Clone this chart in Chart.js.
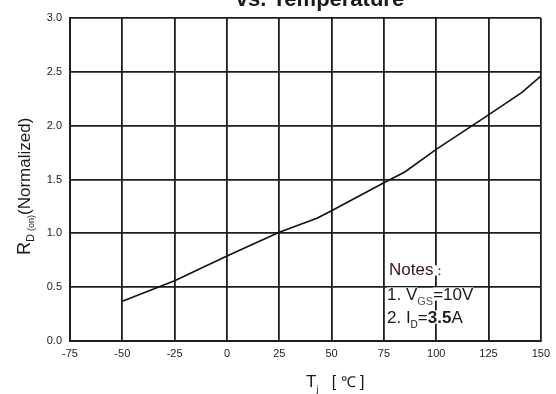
<!DOCTYPE html>
<html>
<head>
<meta charset="utf-8">
<script src="https://cdn.jsdelivr.net/npm/chart.js@4.4.1/dist/chart.umd.min.js"></script>
<style>
  html, body { margin: 0; padding: 0; background: #fff; }
</style>
</head>
<body>
<canvas id="chart" width="556" height="394"></canvas>
<script>
// Tj (deg C) vs normalized RDS(on)
const tempC = [-50, -25, 0, 25, 43, 50, 75, 85, 100, 125, 141, 150]
const rdsNorm = [0.37, 0.56, 0.79, 1.01, 1.14, 1.21, 1.47, 1.57, 1.78, 2.10, 2.31, 2.46]
const xTicks = [-75, -50, -25, 0, 25, 50, 75, 100, 125, 150]
const yTicks = [0.0, 0.5, 1.0, 1.5, 2.0, 2.5, 3.0]

const FONT = '"Liberation Sans", Arial, sans-serif'
const INK = '#1a1a1a'

// draws a list of text runs [text, size, dy, weight, color] starting at x,y
function drawRuns(ctx, runs, x, y, whiteBg) {
  let cx = x
  runs.forEach(([txt, size, dy, weight, color]) => {
    ctx.font = `${weight || 'normal'} ${size}px ${FONT}`
    const w = ctx.measureText(txt).width
    if (whiteBg && txt.trim()) {
      ctx.fillStyle = '#fff'
      ctx.fillRect(cx, y + dy - size * 0.74, w, size * 0.78)
    }
    ctx.fillStyle = color || INK
    ctx.fillText(txt, cx, y + dy)
    cx += w
  })
}

const labelsPlugin = {
  id: 'labels',
  afterDraw(chart) {
    const ctx = chart.ctx
    ctx.save()
    ctx.textBaseline = 'alphabetic'
    ctx.textAlign = 'left'

    // title, cut off by the top edge
    ctx.font = `bold 22px ${FONT}`
    ctx.fillStyle = INK
    ctx.textAlign = 'center'
    ctx.fillText('vs. Temperature', 320, 6)
    ctx.textAlign = 'left'

    // y axis title
    ctx.save()
    ctx.translate(30, 255)
    ctx.rotate(-Math.PI / 2)
    drawRuns(ctx, [
      ['R', 18, 0], ['D', 11, 4], [' ', 11, 4], ['(on)', 9, 4], ['(Normalized)', 17, 0],
    ], 0, 0, false)
    ctx.restore()

    // x axis title
    drawRuns(ctx, [['T', 17, 0], ['j', 9, 5], ['   [ ', 16, 0], ['℃', 15, 0], [' ]', 16, 0]], 306, 387, false)

    // notes
    drawRuns(ctx, [['Notes', 17, 0, 'normal', '#3a1418'], ['：', 13, 0]], 389, 275, true)
    drawRuns(ctx, [['1. V', 17, 0], ['GS', 11, 5, 'normal', '#555'], ['=10V', 17, 0]], 387, 300, true)
    drawRuns(ctx, [['2. I', 17, 0], ['D', 10, 5], ['=', 17, 0], ['3.5', 17, 0, 'bold'], ['A', 17, 0]], 387, 323, true)

    ctx.restore()
  }
}

new Chart(document.getElementById('chart'), {
  type: 'line',
  data: {
    datasets: [{
      data: tempC.map((t, i) => ({ x: t, y: rdsNorm[i] })),
      borderColor: '#111',
      borderWidth: 1.6,
      pointRadius: 0,
      tension: 0,
      fill: false,
    }]
  },
  options: {
    responsive: false,
    animation: false,
    devicePixelRatio: 1,
    layout: { padding: { left: 0, top: 18, right: 15, bottom: 0 } },
    plugins: {
      legend: { display: false },
      tooltip: { enabled: false },
    },
    scales: {
      x: {
        type: 'linear',
        min: -75,
        max: 150,
        afterBuildTicks: s => { s.ticks = xTicks.map(v => ({ value: v })) },
        afterFit: s => { s.height = 53 },
        grid: { color: '#1e1e1e', lineWidth: 1.8, drawTicks: false },
        border: { color: '#1e1e1e', width: 2 },
        ticks: {
          color: '#222',
          font: { family: FONT, size: 11 },
          padding: 6,
          maxRotation: 0,
        },
      },
      y: {
        min: 0,
        max: 3,
        afterBuildTicks: s => { s.ticks = yTicks.map(v => ({ value: v })) },
        afterFit: s => { s.width = 70 },
        grid: { color: '#1e1e1e', lineWidth: 1.8, drawTicks: false },
        border: { color: '#1e1e1e', width: 2 },
        ticks: {
          color: '#222',
          font: { family: FONT, size: 11 },
          padding: 8,
          callback: v => v.toFixed(1),
        },
      },
    },
  },
  plugins: [labelsPlugin],
})
</script>
</body>
</html>
